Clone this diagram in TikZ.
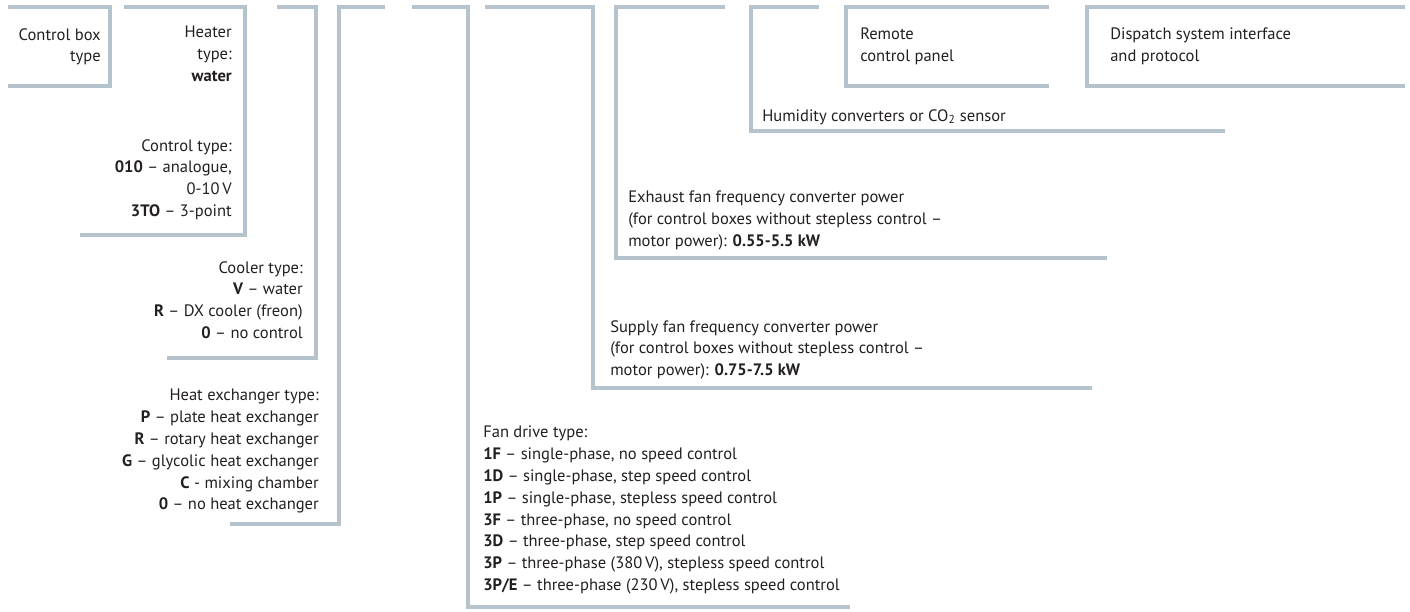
\documentclass[tikz,border=0pt]{standalone}
\usepackage{fontspec}
\setmainfont{PT Sans}
\definecolor{lineblue}{RGB}{181,195,205}
\definecolor{ink}{RGB}{35,31,32}
\begin{document}
\begin{tikzpicture}[x=0.75pt,y=-0.75pt,
  br/.style={draw=lineblue,line width=3pt,line cap=butt,line join=miter},
  txt/.style={inner sep=0pt,text=ink,font=\fontsize{12.4}{16.35}\selectfont},
  rt/.style={txt,anchor=north east,align=right},
  lt/.style={txt,anchor=north west,align=left}]
\useasboundingbox (0,0) rectangle (1410,611);
% brackets
\draw[br] (8,7) -- (110,7) -- (110,86) -- (8,86);
\draw[br] (124,7) -- (245,7) -- (245,235) -- (80,235);
\draw[br] (277,7) -- (316,7) -- (316,358) -- (167,358);
\draw[br] (385,7) -- (339,7) -- (339,524) -- (230,524);
\draw[br] (412,7) -- (468,7) -- (468,607) -- (850,607);
\draw[br] (485,7) -- (593,7) -- (593,388) -- (1092,388);
\draw[br] (725,7) -- (616,7) -- (616,258) -- (1107,258);
\draw[br] (819,7) -- (751,7) -- (751,131) -- (1225,131);
\draw[br] (1049,7) -- (846,7) -- (846,86) -- (1049,86);
\draw[br] (1405,7) -- (1087,7) -- (1087,86) -- (1405,86);
% texts
\node[rt] (ctrlbox) at (101,28) {Control box\\type};
\node[rt] (heater) at (232,26) {Heater\\type:\\\textbf{water}};
\node[rt] (ctrltype) at (232,139) {Control type:\\\textbf{010} – analogue,\\0-10\,V\\\textbf{3TO} – 3-point};
\node[rt] (cooler) at (303,261) {Cooler type:\\\textbf{V} – water\\\textbf{R} – DX cooler (freon)\\\textbf{0} – no control};
\node[rt] (heatex) at (319,389) {Heat exchanger type:\\\textbf{P} – plate heat exchanger\\\textbf{R} – rotary heat exchanger\\\textbf{G} – glycolic heat exchanger\\\textbf{C} - mixing chamber\\\textbf{0} – no heat exchanger};
\node[lt] (fan) at (483,426) {Fan drive type:\\\textbf{1F} – single-phase, no speed control\\\textbf{1D} – single-phase, step speed control\\\textbf{1P} – single-phase, stepless speed control\\\textbf{3F} – three-phase, no speed control\\\textbf{3D} – three-phase, step speed control\\\textbf{3P} – three-phase (380\,V), stepless speed control\\\textbf{3P/E} – three-phase (230\,V), stepless speed control};
\node[lt] (supply) at (610,320) {Supply fan frequency converter power\\(for control boxes without stepless control –\\motor power): \textbf{0.75-7.5 kW}};
\node[lt] (exhaust) at (628,191) {Exhaust fan frequency converter power\\(for control boxes without stepless control –\\motor power): \textbf{0.55-5.5 kW}};
\node[lt] (humid) at (762,109) {Humidity converters or CO\textsubscript{2} sensor};
\node[lt] (remote) at (860,28) {Remote\\control panel};
\node[lt] (dispatch) at (1110,28) {Dispatch system interface\\and protocol};
\end{tikzpicture}
\end{document}
